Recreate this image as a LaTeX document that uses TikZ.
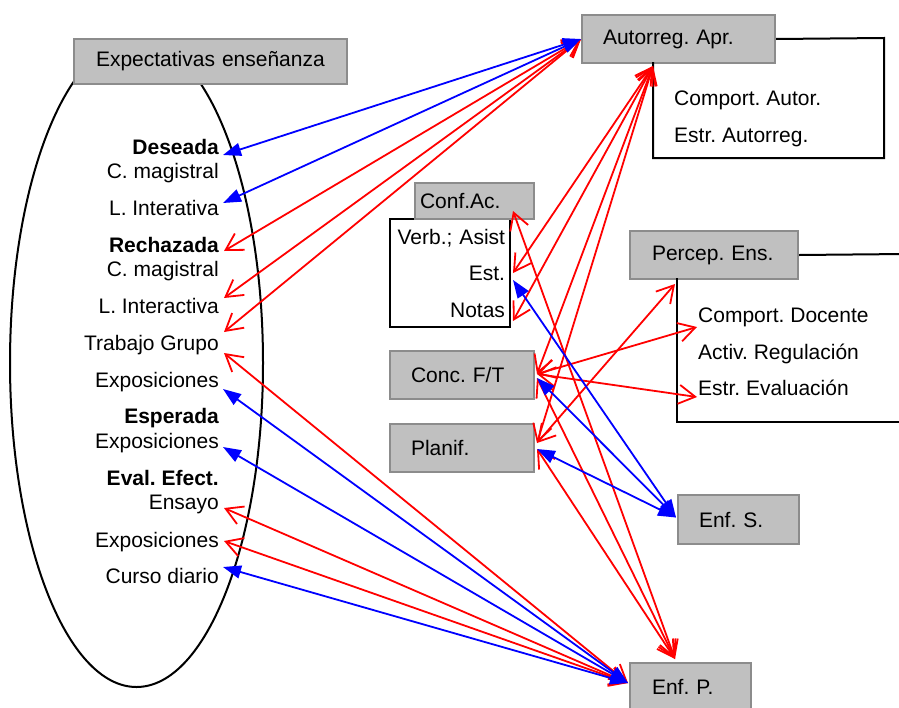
\documentclass[tikz,border=0pt]{standalone}
\usepackage{fontspec}
\setmainfont{Liberation Sans}
\usetikzlibrary{arrows.meta,calc}
\definecolor{boxfill}{HTML}{C0C0C0}
\definecolor{boxedge}{HTML}{8C8C8C}
\definecolor{linkred}{HTML}{FF0000}
\definecolor{linkblue}{HTML}{0000FF}
\frenchspacing
\begin{document}
\begin{tikzpicture}[x=1pt,y=-1pt,
  every node/.style={font=\fontsize{21}{25}\selectfont},
  gbox/.style={draw=boxedge, fill=boxfill, line width=2pt, anchor=north west,
    inner xsep=21pt, inner ysep=0pt, align=left},
  frame/.style={draw=black, line width=2pt},
  lbl/.style={inner sep=0pt, anchor=base west},
  item/.style={inner sep=0pt, anchor=base east},
  hd/.style={font=\fontsize{21}{25}\selectfont\bfseries},
  redlink/.style={draw=linkred, line width=1.8pt,
    {Straight Barb[length=16.5pt,width=19pt]}-{Straight Barb[length=16.5pt,width=19pt]}},
  bluelink/.style={draw=linkblue, line width=1.8pt,
    {Triangle[length=18pt,width=13pt]}-{Triangle[length=18pt,width=13pt]}},
]
\useasboundingbox (0,0) rectangle (899,707);

% teaching expectations: ellipse with its items
\draw[line width=2pt] (136.5,363) ellipse [x radius=126.5pt, y radius=324pt];
\node[gbox, inner xsep=22pt, text width=229pt, minimum height=45pt] (exp) at (73,38) {\mbox{Expectativas enseñanza}};

\node[item,hd] (des) at (219,154) {Deseada};
\node[item] (cm1) at (219,178) {C. magistral};
\node[item] (li1) at (219,215) {L. Interativa};
\node[item,hd] (rec) at (219,252) {Rechazada};
\node[item] (cm2) at (219,276) {C. magistral};
\node[item] (li2) at (219,313) {L. Interactiva};
\node[item] (tg) at (219,350) {Trabajo Grupo};
\node[item] (ex1) at (219,387) {Exposiciones};
\node[item,hd] (esp) at (219,423) {Esperada};
\node[item] (ex2) at (219,448) {Exposiciones};
\node[item,hd] (eva) at (219,485) {Eval. Efect.};
\node[item] (ens) at (219,509) {Ensayo};
\node[item] (ex3) at (219,547) {Exposiciones};
\node[item] (cur) at (219,583) {Curso diario};

% self-regulated learning
\node[gbox, text width=151pt, minimum height=48pt] (aut) at (581,14) {\mbox{Autorreg. Apr.}};
\draw[frame] (aut.east) -- (884,38) -- (884,158) -- (653,158) -- (653,62);
\node[lbl] (ca) at (674,105) {Comport. Autor.};
\node[lbl] (ea) at (674,142) {Estr. Autorreg.};

% academic configuration
\node[draw=black, fill=white, line width=2pt, anchor=north west, inner xsep=5pt, inner ysep=0pt,
  text width=110pt, minimum height=108pt, align=right,
  font=\fontsize{21}{36.5}\selectfont] (cfl) at (389,218) {Verb.; Asist\\Est.\\Notas};
\node[gbox, inner xsep=5pt, text width=109pt, minimum height=36pt] (cfa) at (414,182) {Conf.Ac.};

% teaching perception
\node[gbox, inner xsep=22pt, text width=124pt, minimum height=48pt] (per) at (629,230) {\mbox{Percep. Ens.}};
\draw[frame] (per.east) -- (905,254);
\draw[frame] (677,278) -- (677,422) -- (905,422);
\node[lbl] (cd) at (698,322) {Comport. Docente};
\node[lbl] (ar) at (698,359) {Activ. Regulación};
\node[lbl] (ev) at (698,395) {Estr. Evaluación};

% remaining factors
\node[gbox, text width=102pt, minimum height=48pt] (cft) at (389,350) {\mbox{Conc. F/T}};
\node[gbox, text width=102pt, minimum height=48pt] (pla) at (389,423) {Planif.};
\node[gbox, text width=79pt, minimum height=49pt] (enfs) at (677,494) {\mbox{Enf. S.}};
\node[gbox, inner xsep=22pt, text width=77pt, minimum height=48pt] (enfp) at (629,662) {\mbox{Enf. P.}};

% connector end points
\coordinate (tDes) at ($(des.base east)+(4,1)$);
\coordinate (tLi1) at ($(li1.base east)+(4,-12)$);
\coordinate (tRec) at ($(rec.base east)+(5,-1)$);
\coordinate (tLi2) at ($(li2.base east)+(5,-15)$);
\coordinate (tTgA) at ($(tg.base east)+(5,-18)$);
\coordinate (tTgB) at ($(tg.base east)+(5,3)$);
\coordinate (tEx1) at ($(ex1.base east)+(4,2)$);
\coordinate (tEx2) at ($(ex2.base east)+(4,-1)$);
\coordinate (tEns) at ($(ens.base east)+(5,-1)$);
\coordinate (tEx3) at ($(ex3.base east)+(5,-6)$);
\coordinate (tCur) at ($(cur.base east)+(4,-16)$);

\coordinate (autB) at ($(aut.south west)+(72,2)$);
\coordinate (tEstR) at ($(cfl.north east)+(2,55)$);
\coordinate (tEstB) at ($(cfl.north east)+(2,62)$);
\coordinate (tNot) at ($(cfl.north east)+(2,103)$);
\coordinate (tCfa) at ($(cfl.north east)+(2,-7)$);
\coordinate (cftR) at ($(cft.east)+(2,-1)$);
\coordinate (cftB) at ($(cft.east)+(2,3)$);
\coordinate (plaR) at ($(pla.east)+(2,-5)$);
\coordinate (plaB) at ($(pla.east)+(2,1)$);
\coordinate (perB) at ($(per.south west)+(46,4)$);
\coordinate (tCd) at ($(cd.base west)+(-1,5)$);
\coordinate (tEv) at ($(ev.base west)+(-1,2)$);
\coordinate (enfsW) at ($(enfs.west)+(-1,-2)$);
\coordinate (enfpW) at ($(enfp.north west)+(-1,21)$);
\coordinate (enfpN) at ($(enfp.north west)+(46,-3)$);

% red links
\draw[redlink] (tRec) -- (aut.west);
\draw[redlink] (tLi2) -- (aut.west);
\draw[redlink] (tTgA) -- (aut.west);
\draw[redlink] (tTgB) -- (enfpW);
\draw[redlink] (tEns) -- (enfpW);
\draw[redlink] (tEx3) -- (enfpW);
\draw[redlink] (tEstR) -- (autB);
\draw[redlink] (tNot) -- (autB);
\draw[redlink] (cftR) -- (autB);
\draw[redlink] (plaR) -- (autB);
\draw[redlink] (tCfa) -- (enfpN);
\draw[redlink] (cftB) -- (enfpN);
\draw[redlink] (plaB) -- (enfpN);
\draw[redlink] (plaR) -- (perB);
\draw[redlink] (cftR) -- (tCd);
\draw[redlink] (cftR) -- (tEv);

% blue links
\draw[bluelink] (tDes) -- (aut.west);
\draw[bluelink] (tLi1) -- (aut.west);
\draw[bluelink] (tEx1) -- (enfpW);
\draw[bluelink] (tEx2) -- (enfpW);
\draw[bluelink] (tCur) -- (enfpW);
\draw[bluelink] (tEstB) -- (enfsW);
\draw[bluelink] (cftB) -- (enfsW);
\draw[bluelink] (plaB) -- (enfsW);
\end{tikzpicture}
\end{document}
